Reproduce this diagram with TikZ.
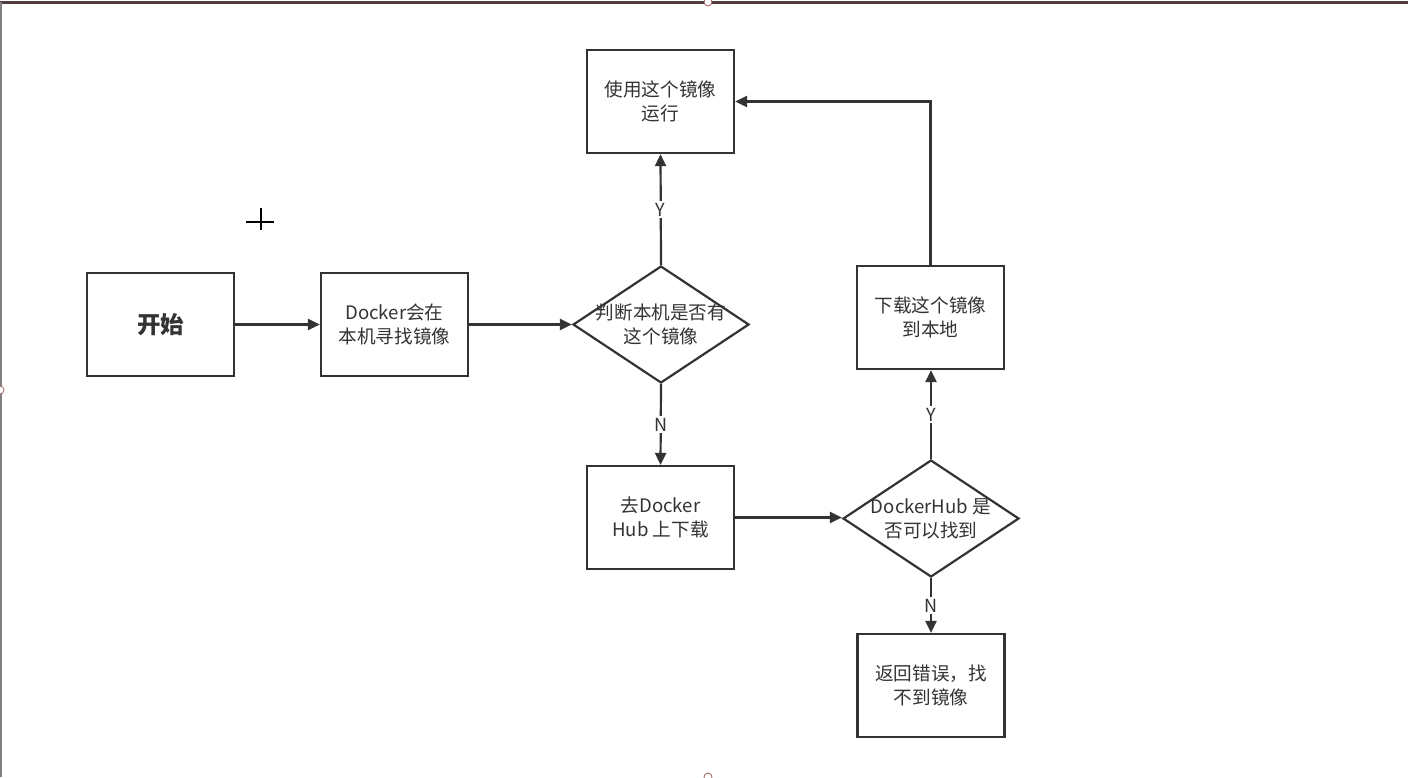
\documentclass[tikz,border=0pt]{standalone}
\usepackage{fontspec}
\newfontfamily\cjk{Noto Sans CJK SC}
\usetikzlibrary{shapes.geometric,arrows.meta}
\definecolor{lc}{HTML}{333333}
\definecolor{tc}{HTML}{333333}
\definecolor{handle}{HTML}{A06060}
\begin{document}
\begin{tikzpicture}[x=1pt,y=-1pt,
  box/.style={draw=lc,line width=2.2pt,minimum width=147pt,minimum height=103pt,inner sep=0pt,fill=white},
  dia/.style={draw=lc,line width=2.2pt,diamond,minimum width=176pt,minimum height=117pt,inner sep=0pt,aspect=1.5},
  txt/.style={align=center,text=tc,font=\cjk\fontsize{18.6}{24}\selectfont,inner sep=0pt},
  arr/.style={draw=lc,line width=2.2pt,-{Triangle[length=12pt,width=11pt]}},
  yn/.style={fill=white,text=tc,font=\cjk\fontsize{18}{20}\selectfont,inner sep=2pt}]
\useasboundingbox (0,0) rectangle (1408,777);
% window artifacts
\draw[line width=3pt,color={rgb,255:red,80;green,60;blue,60}] (0,2) -- (1408,2);
\draw[line width=1.2pt,color=gray] (1,2) -- (1,777);
\draw[handle,fill=white,line width=0.8pt] (708,2) circle (4pt);
\draw[handle,fill=white,line width=0.8pt] (0,390) circle (4pt);
\draw[handle,fill=white,line width=0.8pt] (708,777) circle (4pt);
% cursor cross
\draw[line width=2pt,black] (246,222) -- (274,222);
\draw[line width=2pt,black] (261,208) -- (261,230);
% nodes
\node[box] (start) at (160.5,324.5) {};
\node[txt,font=\cjk\bfseries\fontsize{23.5}{26}\selectfont] (startt) at (start) {开始};
\node[box] (find) at (394.5,324.5) {};
\node[txt] (findt) at (find) {Docker会在\\本机寻找镜像};
\node[dia] (d1) at (661,324.5) {};
\node[txt] (d1t) at (d1) {判断本机是否有\\这个镜像};
\node[box] (run) at (660.5,101.5) {};
\node[txt] (runt) at (run) {使用这个镜像\\运行};
\node[box] (hub) at (660.5,517.5) {};
\node[txt] (hubt) at (hub) {去Docker\\Hub 上下载};
\node[dia] (d2) at (931,518.5) {};
\node[txt] (d2t) at (d2) {DockerHub 是\\否可以找到};
\node[box] (dl) at (930.5,317.5) {};
\node[txt] (dlt) at (dl) {下载这个镜像\\到本地};
\node[box] (err) at (931,685.5) {};
\node[txt] (errt) at (err) {返回错误，找\\不到镜像};
% connectors
\draw[arr] (start.east) -- (find.west);
\draw[arr] (find.east) -- (d1.west);
\draw[arr] (d1.north) -- node[yn] (y1) {Y} (run.south);
\draw[arr] (d1.south) -- node[yn] (n1) {N} (hub.north);
\draw[arr] (hub.east) -- (d2.west |- hub.east);
\draw[arr] (d2.north) -- node[yn] (y2) {Y} (d2.north |- dl.south);
\draw[arr] (d2.south) -- node[yn] (n2) {N} (d2.south |- err.north);
\coordinate (corner) at (dl.north |- run.east);
\draw[arr] (dl.north) -- (corner) -- (run.east);
\end{tikzpicture}
\end{document}
